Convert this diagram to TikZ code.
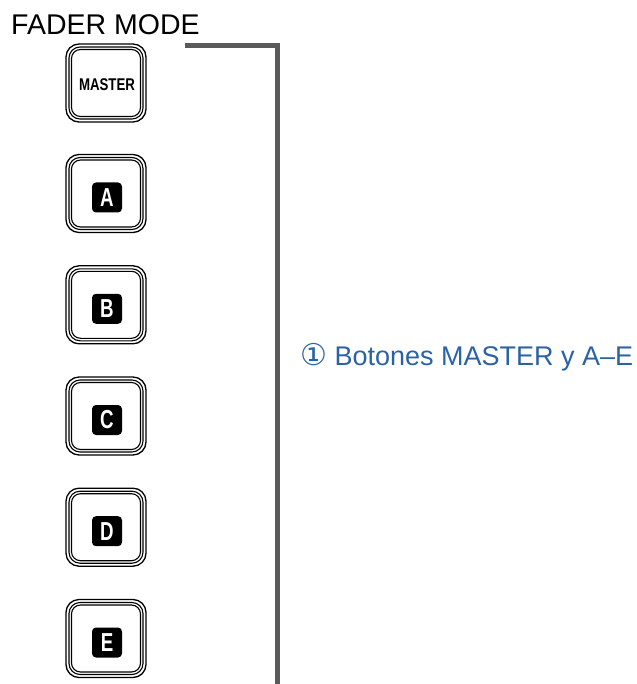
\documentclass[tikz,border=0pt]{standalone}
\usepackage{fontspec}
\setmainfont{Liberation Sans}
\newfontfamily\symfont{DejaVu Sans}
\definecolor{labelblue}{HTML}{2A62A6}
\definecolor{bracketgray}{HTML}{5A5A5A}
\tikzset{
  btnouter/.style={draw=black, line width=1.3pt, rounded corners=13pt, minimum width=80pt, minimum height=78pt},
  btnmid/.style={draw=black, line width=1.1pt, rounded corners=11pt, minimum width=74pt, minimum height=72pt},
  btninner/.style={draw=black, line width=1.1pt, rounded corners=9pt, minimum width=69pt, minimum height=67pt},
  badge/.style={fill=black, rounded corners=4pt, minimum width=30pt, minimum height=30pt, inner sep=0pt,
    text=white, font=\fontsize{26}{26}\selectfont\bfseries},
  bracket/.style={draw=bracketgray, line width=5pt},
}
% one channel button: frame centred at #2, letter badge slightly below centre
\newcommand{\fadebutton}[3]{%
  \node[btnouter] (#1) at (106,#2) {};
  \node[btnmid] at (106,#2) {};
  \node[btninner] at (106,#2) {};
  \node[badge] (#1-l) at (107,#2+4) {\scalebox{0.72}[1]{#3}};
}
\begin{document}
\begin{tikzpicture}[x=1pt, y=-1pt]
  \useasboundingbox (0,0) rectangle (636,684);
  % title
  \node[anchor=base west, inner sep=0pt, font=\fontsize{28.5}{30}\selectfont] (title) at (11,35) {FADER MODE};
  % MASTER button
  \node[btnouter] (master) at (106,83) {};
  \node[btnmid] at (106,83) {};
  \node[btninner] at (106,83) {};
  \node[inner sep=0pt, font=\fontsize{17}{17}\selectfont\bfseries] (master-l) at (107,85) {\scalebox{0.78}[1]{MASTER}};
  % channel buttons
  \fadebutton{ba}{193.5}{A}
  \fadebutton{bb}{304.8}{B}
  \fadebutton{bc}{416}{C}
  \fadebutton{bd}{527.2}{D}
  \fadebutton{be}{638.5}{E}
  % bracket
  \coordinate (brtop) at (185,46);
  \coordinate (brcorner) at (277,46);
  \coordinate (brbottom) at (277,684);
  \draw[bracket] (brtop) -- (brcorner) -- (brbottom);
  % label
  \node[anchor=base west, inner sep=0pt, text=labelblue, font=\fontsize{27}{28}\selectfont] (label) at (300,365)
    {{\symfont\fontsize{30}{30}\selectfont ①} Botones MASTER y A–E};
\end{tikzpicture}
\end{document}
